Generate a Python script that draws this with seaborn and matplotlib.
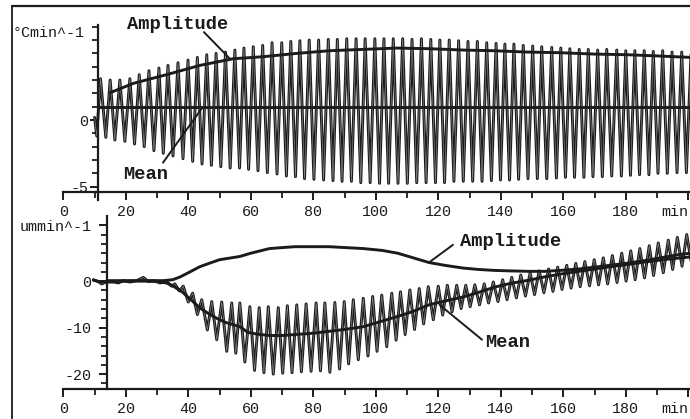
import pandas as pd
import seaborn as sns
import matplotlib
matplotlib.use('Agg')
import matplotlib.pyplot as plt
from matplotlib.lines import Line2D

sns.set_theme(style='ticks', rc={'axes.linewidth': 1.6, 'axes.edgecolor': '#1b1b1b',
                                 'text.color': '#1b1b1b', 'xtick.color': '#1b1b1b',
                                 'ytick.color': '#1b1b1b'})
plt.rcParams['font.family'] = ['Liberation Mono', 'DejaVu Sans']

INK = '#1b1b1b'

# ---- top panel (degC/min): oscillation read as peaks / troughs, plus the two smooth curves
top_lead_t = [10.0]
top_lead_v = [0.2]
top_peak_t = [11.9, 15.0, 18.1, 21.3, 24.3, 27.4, 30.6, 33.5, 36.7, 39.9, 42.9, 45.9, 48.9, 51.9,
              54.9, 57.8, 60.8, 63.8, 66.8, 69.9, 72.8, 75.7, 78.7, 81.7, 84.8, 87.7, 90.7, 93.7,
              96.6, 99.7, 102.6, 105.6, 108.6, 111.6, 114.6, 117.6, 120.5, 123.5, 126.5, 129.5,
              132.5, 135.5, 138.5, 141.3, 144.2, 147.2, 150.2, 153.1, 156.3, 159.2, 162.1, 165.1,
              168.0, 171.0, 173.9, 177.1, 180.0, 182.9, 185.9, 188.8, 191.8, 194.8, 197.9, 200.9]
top_peak_v = [3.1, 3.0, 3.0, 3.1, 3.4, 3.7, 3.9, 4.1, 4.3, 4.5, 4.7, 4.9, 5.0, 5.1,
              5.25, 5.4, 5.5, 5.6, 5.8, 5.8, 5.9, 5.95, 6.0, 6.0, 6.05, 6.05, 6.1, 6.1,
              6.1, 6.1, 6.1, 6.1, 6.1, 6.05, 6.1, 6.05, 6.0, 6.0, 5.95, 5.9,
              5.9, 5.8, 5.75, 5.7, 5.7, 5.6, 5.55, 5.5, 5.45, 5.4, 5.35, 5.3,
              5.3, 5.25, 5.3, 5.25, 5.2, 5.2, 5.2, 5.15, 5.2, 5.1, 5.1, 5.1]
top_trough_t = [10.7, 13.6, 16.5, 19.7, 22.8, 25.9, 29.0, 32.0, 35.1, 38.3, 41.4, 44.4, 47.4, 50.4,
                53.4, 56.4, 59.3, 62.3, 65.3, 68.4, 71.4, 74.3, 77.2, 80.2, 83.3, 86.3, 89.2, 92.2,
                95.2, 98.2, 101.2, 104.1, 107.1, 110.1, 113.1, 116.1, 119.1, 122.0, 125.0, 128.0,
                131.0, 134.0, 137.0, 139.9, 142.8, 145.7, 148.7, 151.7, 154.7, 157.8, 160.7, 163.6,
                166.6, 169.5, 172.5, 175.5, 178.6, 181.5, 184.4, 187.4, 190.3, 193.3, 196.4, 199.4]
top_trough_v = [-1.2, -1.3, -1.5, -1.6, -1.8, -2.0, -2.3, -2.5, -2.7, -2.9, -3.1, -3.3, -3.4, -3.5,
                -3.6, -3.6, -3.7, -3.8, -3.95, -4.05, -4.2, -4.25, -4.4, -4.45, -4.5, -4.55, -4.6, -4.6,
                -4.7, -4.7, -4.75, -4.75, -4.75, -4.75, -4.7, -4.7, -4.7, -4.7, -4.6, -4.6,
                -4.6, -4.6, -4.55, -4.5, -4.5, -4.45, -4.4, -4.4, -4.4, -4.35, -4.3, -4.3,
                -4.3, -4.25, -4.25, -4.2, -4.2, -4.15, -4.1, -4.1, -4.0, -4.0, -3.95, -3.95]
top_amp_t = [15, 22.4, 33, 43.7, 54.4, 64, 74.7, 85.3, 96, 106.7, 117.3, 128, 137.6, 148.3,
             159, 169.7, 180.3, 191, 200.6]
top_amp_v = [2.05, 2.75, 3.4, 4.1, 4.6, 4.75, 5.0, 5.2, 5.3, 5.4, 5.35, 5.25, 5.2, 5.1,
             5.05, 4.95, 4.9, 4.8, 4.7]
top_mean_t = [11.0, 200.6]
top_mean_v = [1.0, 1.0]

# ---- bottom panel (um/min)
bot_lead_t = [9.6, 11.2, 12.3, 13.9, 16.0, 17.6, 19.2, 21.3, 23.5, 25.6, 27.2, 29.3, 30.9, 33.1,
              34.7, 35.7]
bot_lead_v = [0.3, -0.1, -0.6, -0.1, -0.1, -0.4, 0.1, -0.2, 0.1, 0.8, -0.1, 0.1, -0.4, -0.1,
              -1.1, -0.6]
bot_peak_t = [38.4, 41.4, 44.3, 47.5, 50.7, 53.9, 56.5, 59.7, 62.7, 65.6, 68.8, 71.7, 74.7, 77.7,
              80.9, 83.7, 86.9, 89.9, 92.8, 96.0, 99.0, 101.9, 105.1, 107.9, 110.9, 113.9, 116.8,
              120.0, 122.9, 125.9, 128.8, 131.7, 134.7, 137.6, 140.6, 143.5, 146.4, 149.4, 152.3,
              155.3, 158.2, 161.1, 164.0, 166.9, 169.9, 172.8, 175.7, 178.7, 181.6, 184.5, 187.5,
              190.4, 193.6, 196.5, 199.5, 202.4]
bot_peak_v = [-1.1, -2.6, -4.0, -4.4, -4.5, -4.7, -4.7, -5.5, -5.7, -5.5, -5.7, -5.3, -5.1, -4.9,
              -4.7, -4.7, -4.6, -4.4, -4.0, -3.7, -3.3, -3.0, -2.6, -2.3, -1.9, -1.6, -1.2,
              -1.1, -0.9, -0.9, -0.9, -0.8, -0.6, -0.2, 0.3, 0.8, 1.3, 1.8, 2.2,
              2.6, 3.0, 3.4, 3.8, 4.2, 4.6, 5.0, 5.5, 6.0, 6.5, 7.0, 7.6,
              8.2, 8.8, 9.4, 10.0, 10.5]
bot_trough_t = [37.1, 40.0, 42.9, 46.1, 49.1, 52.3, 55.2, 58.1, 61.2, 64.2, 67.2, 70.2, 73.2, 76.2,
                79.3, 82.3, 85.3, 88.4, 91.3, 94.4, 97.5, 100.4, 103.5, 106.5, 109.4, 112.4, 115.3,
                118.4, 121.4, 124.4, 127.3, 130.2, 133.2, 136.1, 139.1, 142.0, 145.0, 147.9, 150.8,
                153.8, 156.7, 159.6, 162.5, 165.4, 168.4, 171.3, 174.2, 177.2, 180.1, 183.0, 186.0,
                188.9, 192.0, 195.0, 198.0, 201.0]
bot_trough_v = [-2.1, -4.5, -7.2, -10.5, -12.6, -15.1, -15.5, -17.4, -19.2, -19.7, -20.0, -19.8, -19.7, -19.5,
                -19.4, -19.3, -19.6, -18.9, -17.8, -16.9, -16.1, -15.1, -14.1, -12.7, -11.5, -10.4, -9.2,
                -8.3, -7.3, -6.6, -5.9, -5.5, -5.1, -4.7, -4.4, -4.0, -3.6, -3.2, -2.9,
                -2.5, -2.2, -1.8, -1.5, -1.2, -1.0, -0.8, -0.6, -0.3, 0.0, 0.3, 0.7,
                1.2, 1.8, 2.5, 3.2, 3.9]
bot_mean_t = [9.6, 12, 16, 20, 24, 28, 31, 33, 35, 38, 40.5, 43.8, 46.5, 49.1, 52, 56.5, 59, 62, 66,
              70, 74, 80, 85, 90, 96, 101, 107, 112, 117, 122, 128, 133, 138, 143, 149, 154, 159,
              165, 170, 175, 181, 186, 192, 196, 200.6]
bot_mean_v = [0.2, -0.2, -0.2, 0.0, 0.0, 0.0, -0.2, -0.4, -1.0, -2.3, -3.8, -5.8, -7.0, -8.0, -8.9,
              -9.8, -11.0, -11.4, -11.7, -11.7, -11.5, -11.2, -10.8, -10.4, -9.8, -8.8, -7.6, -6.5,
              -5.1, -4.3, -3.4, -2.4, -1.3, -0.5, 0.2, 0.9, 1.5, 2.1, 2.6, 3.1, 3.6, 4.1, 4.6, 4.9, 5.2]
bot_amp_t = [13.9, 25, 32, 35, 37.4, 40, 43.7, 47, 50, 56.5, 60, 66, 74, 85, 96, 102, 107, 112, 117,
             122, 128, 133, 138, 143, 149, 154, 159, 165, 170, 175, 181, 186, 192, 196, 200.6]
bot_amp_v = [0.1, 0.1, 0.1, 0.3, 0.9, 1.8, 3.1, 3.9, 4.6, 5.3, 6.0, 7.0, 7.4, 7.4, 7.0, 6.6, 6.0,
             5.0, 4.0, 3.4, 2.8, 2.5, 2.3, 2.2, 2.1, 2.1, 2.3, 2.6, 3.0, 3.4, 3.9, 4.4, 5.1, 5.6, 6.0]

x_major = [0, 20, 40, 60, 80, 100, 120, 140, 160, 180, 200]
x_labels = ['0', '20', '40', '60', '80', '100', '120', '140', '160', '180', 'min']
x_minor = [10, 30, 50, 70, 90, 110, 130, 150, 170, 190]


def trace(lead_t, lead_v, pk_t, pk_v, tr_t, tr_v):
    parts = [pd.DataFrame({'t': lead_t, 'v': lead_v}),
             pd.DataFrame({'t': pk_t, 'v': pk_v}),
             pd.DataFrame({'t': tr_t, 'v': tr_v})]
    return pd.concat(parts).sort_values('t').reset_index(drop=True)


top_sig = trace(top_lead_t, top_lead_v, top_peak_t, top_peak_v, top_trough_t, top_trough_v)
bot_sig = trace(bot_lead_t, bot_lead_v, bot_peak_t, bot_peak_v, bot_trough_t, bot_trough_v)

W, H = 690, 419
fig = plt.figure(figsize=(W / 100, H / 100), dpi=100)


def px_axes(left, top, right, bottom):
    return fig.add_axes([left / W, 1 - bottom / H, (right - left) / W, (bottom - top) / H])


ax1 = px_axes(63.3, 25.4, 690, 192)
ax2 = px_axes(63.3, 216, 690, 389)

for ax, sig, amp, mean in [(ax1, top_sig, (top_amp_t, top_amp_v), (top_mean_t, top_mean_v)),
                           (ax2, bot_sig, (bot_amp_t, bot_amp_v), (bot_mean_t, bot_mean_v))]:
    # scanned trace strokes look hollow: dark outline with a light core
    sns.lineplot(data=sig, x='t', y='v', ax=ax, color=INK, lw=2.1, estimator=None, sort=False)
    sns.lineplot(data=sig, x='t', y='v', ax=ax, color='#8c8c8c', lw=0.45, estimator=None, sort=False)
    sns.lineplot(x=amp[0], y=amp[1], ax=ax, color=INK, lw=2.1, estimator=None)
    sns.lineplot(x=mean[0], y=mean[1], ax=ax, color=INK, lw=2.1, estimator=None)


def style(ax, ylim, yaxis_t, spine_lo, major_y, ylabels, minor_y, ypad):
    ax.set_xlim(0, 200.55)
    ax.set_ylim(*ylim)
    ax.set_xlabel('')
    ax.set_ylabel('')
    ax.patch.set_alpha(0)
    for s in ('top', 'right'):
        ax.spines[s].set_visible(False)
    ax.spines['left'].set_position(('data', yaxis_t))
    ax.spines['left'].set_bounds(spine_lo, ylim[1])
    ax.spines['left'].set_clip_on(False)
    ax.set_xticks(x_major)
    ax.set_xticklabels(x_labels)
    ax.set_xticks(x_minor, minor=True)
    ax.set_yticks(major_y)
    ax.set_yticklabels(ylabels)
    ax.set_yticks(minor_y, minor=True)
    ax.tick_params(which='major', length=5.5, width=1.4, direction='out', labelsize=10.8)
    ax.tick_params(which='minor', length=4, width=1.3, direction='out')
    ax.tick_params(axis='x', pad=3.5)
    ax.tick_params(axis='y', pad=ypad)
    # the unit label at the end of the time axis sits left of its tick
    ax.get_xticklabels()[-1].set_horizontalalignment('right')


style(ax1, (-5.4, 7.1), 11.2, -6.0, [-5, 0], ['-5', '0'], list(range(-5, 8)), 1.5)
style(ax2, (-23.2, 14.0), 13.9, -23.2, [-20, -10, 0, 12], ['-20', '-10', '0', 'ummin^-1'],
      list(range(-22, 13, 2)), 5.5)

fig.text(85 / W, 1 - 33 / H, '°Cmin^-1', ha='right', va='center', fontsize=10.8, color=INK)

lab = dict(ha='center', va='center', fontsize=13.5, fontweight='bold', color=INK)
lead = dict(arrowstyle='-', lw=1.4, color=INK, shrinkA=0, shrinkB=0)
ax1.text(36.7, 7.2, 'Amplitude', **lab)
ax1.annotate('', xy=(53.3, 4.6), xytext=(45.0, 6.6), arrowprops=lead)
ax1.text(26.2, -4.1, 'Mean', **lab)
ax1.annotate('', xy=(44.4, 0.9), xytext=(31.9, -3.2), arrowprops=lead)
ax2.text(143.0, 8.45, 'Amplitude', **lab)
ax2.annotate('', xy=(117.3, 4.15), xytext=(124.7, 7.8), arrowprops=lead)
ax2.text(142.3, -13.3, 'Mean', **lab)
ax2.annotate('', xy=(134.0, -12.6), xytext=(120.4, -5.1), arrowprops=lead)

# page frame visible at top and left of the scan
fig.add_artist(Line2D([12 / W, 1], [1 - 6 / H, 1 - 6 / H], transform=fig.transFigure, color=INK, lw=1.6))
fig.add_artist(Line2D([12 / W, 12 / W], [0, 1 - 6 / H], transform=fig.transFigure, color=INK, lw=1.3))

fig.savefig('out.png', dpi=100)
